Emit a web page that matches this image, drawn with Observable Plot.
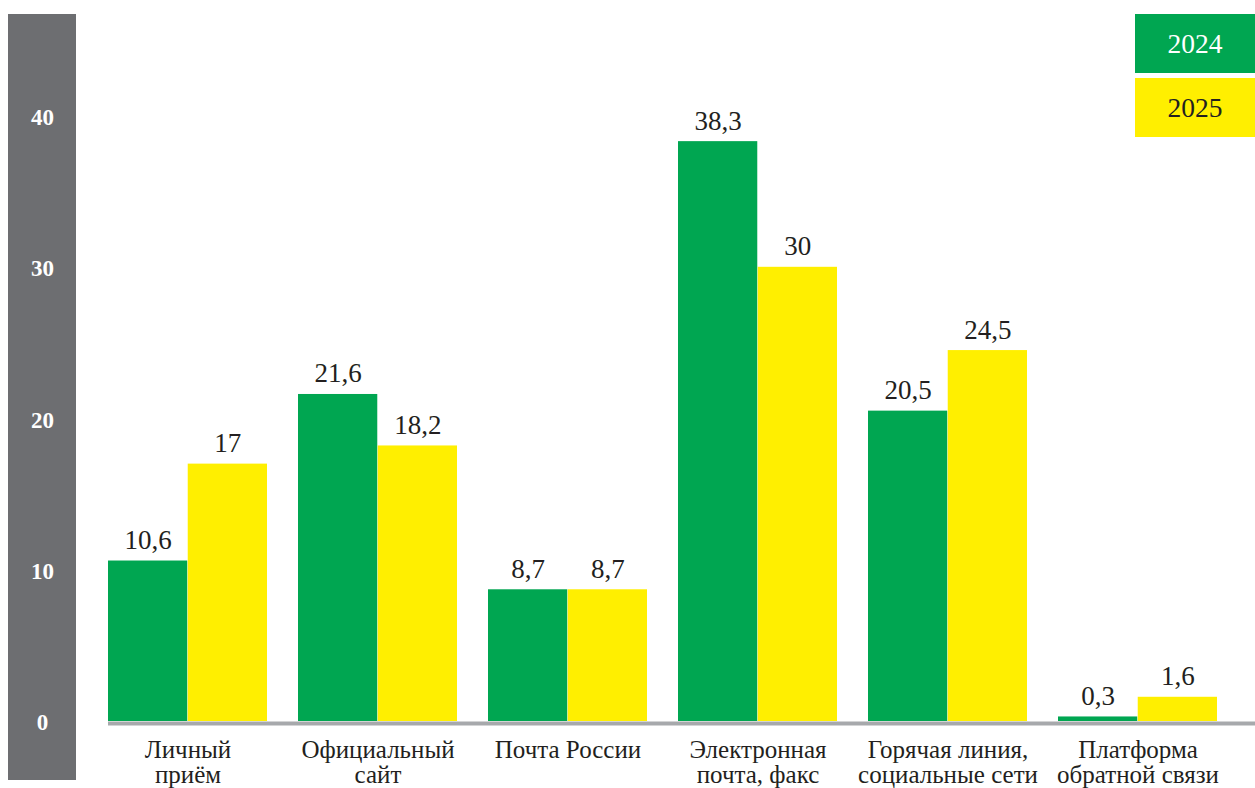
<!DOCTYPE html>
<html><head><meta charset="utf-8">
<script src="https://cdn.jsdelivr.net/npm/d3@7"></script>
<script src="https://cdn.jsdelivr.net/npm/@observablehq/plot@0.6"></script>
<style>
html,body{margin:0;padding:0;background:#fff;}
#wrap{position:relative;width:1255px;height:788px;overflow:hidden;}
#band{position:absolute;left:8px;top:14px;width:68px;height:766px;background:#6d6e71;}
#chart{position:absolute;left:0;top:0;}
.leg{position:absolute;left:1135px;width:120px;height:59px;font-family:'Liberation Serif','Times New Roman',serif;font-size:27.5px;display:flex;align-items:center;justify-content:center;}
svg text{font-family:'Liberation Serif','Times New Roman',serif !important;}
</style></head><body>
<div id="wrap"><div id="band"></div><div id="chart"></div>
<div class="leg" style="top:14px;background:#00a651;color:#fff">2024</div>
<div class="leg" style="top:78px;background:#ffef00;color:#231f20">2025</div>
</div>
<script>
const categories = ["Личный приём", "Официальный сайт", "Почта России", "Электронная почта, факс", "Горячая линия, социальные сети", "Платформа обратной связи"];
const tickLabels = ["Личный\nприём", "Официальный\nсайт", "Почта России", "Электронная\nпочта, факс", "Горячая линия,\nсоциальные сети", "Платформа\nобратной связи"];
const values2024 = [10.6, 21.6, 8.7, 38.3, 20.5, 0.3];
const values2025 = [17, 18.2, 8.7, 30, 24.5, 1.6];
const years = ["2024", "2025"];
const colors = ["#00a651", "#ffef00"];
const yTicks = [0, 10, 20, 30, 40];

const fmt = v => String(v).replace(".", ",");
const d24 = categories.map((c, i) => ({cat: c, year: years[0], value: values2024[i]}));
const d25 = categories.map((c, i) => ({cat: c, year: years[1], value: values2025[i]}));

const xRange = [108, 1217.7];
const pad = 0.161;
const step = (xRange[1] - xRange[0]) / (categories.length - pad);
const half = step * (1 - pad) / 2;
const ink = "#231f20";
const serif = "'Liberation Serif', 'Times New Roman', serif";

const chart = Plot.plot({
  width: 1255, height: 788,
  marginLeft: 108, marginRight: 0, marginTop: 115, marginBottom: 67,
  style: {background: "transparent", fontFamily: serif, overflow: "visible"},
  x: {domain: categories, range: xRange, paddingInner: pad, paddingOuter: 0, axis: null, label: null},
  y: {domain: [0, 40], range: [721, 115.4], axis: null, label: null},
  color: {domain: years, range: colors},
  marks: [
    Plot.barY(d24, {x: "cat", y: "value", fill: "year", insetRight: half}),
    Plot.barY(d25, {x: "cat", y: "value", fill: "year", insetLeft: half}),
    Plot.ruleY([0], {stroke: "#a7a9ac", strokeWidth: 4, dy: 2}),
    Plot.text(d24, {x: "cat", y: "value", text: d => fmt(d.value), dx: -half / 2, dy: -12, lineAnchor: "bottom", fontSize: 27, fontFamily: serif, fill: ink}),
    Plot.text(d25, {x: "cat", y: "value", text: d => fmt(d.value), dx: half / 2, dy: -12, lineAnchor: "bottom", fontSize: 27, fontFamily: serif, fill: ink}),
    Plot.axisY(yTicks, {anchor: "left", label: null, tickSize: 0, tickPadding: 66, textAnchor: "middle", fontSize: 23, fontWeight: "bold", fontFamily: serif, fill: "#fff", color: "#fff", dy: 1.5}),
    Plot.axisX({anchor: "bottom", label: null, tickSize: 0, tickPadding: 19, fontSize: 25, fontFamily: serif, lineAnchor: "top", lineHeight: 1, fill: ink, color: ink,
      tickFormat: c => tickLabels[categories.indexOf(c)]})
  ]
});
document.getElementById("chart").appendChild(chart);
</script>
</body></html>
